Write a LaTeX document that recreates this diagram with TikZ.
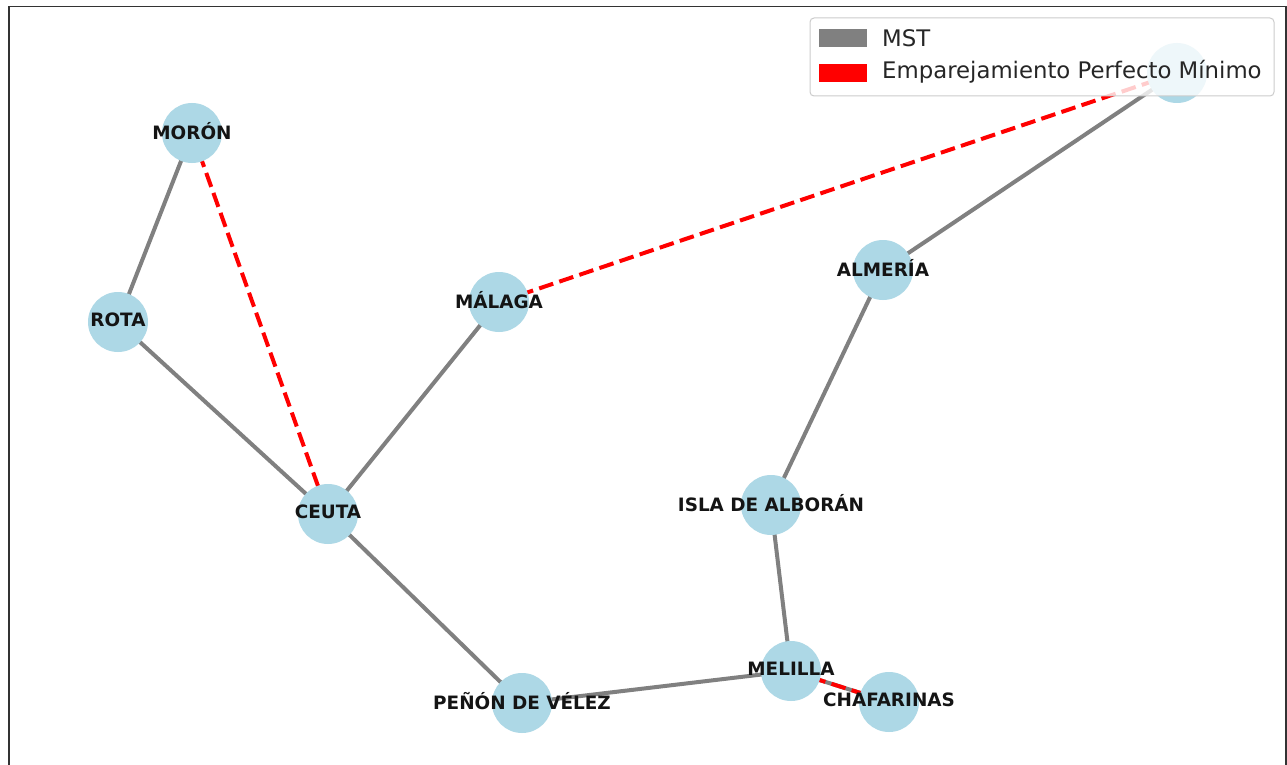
\documentclass[tikz,border=0pt]{standalone}
\usepackage{fontspec}
\setmainfont{DejaVu Sans}
\usetikzlibrary{backgrounds}
\definecolor{nodeblue}{HTML}{ADD8E6}
\definecolor{mstgray}{HTML}{808080}
\definecolor{matchred}{HTML}{FF0000}
\definecolor{framegray}{HTML}{333333}
\tikzset{
  city/.style={circle, fill=nodeblue, draw=none, minimum size=60pt, inner sep=0pt},
  citylabel/.style={font=\fontsize{18.4}{20}\selectfont\bfseries, text=black!92, inner sep=0pt, yshift=2pt},
  mst/.style={draw=mstgray, line width=4pt},
  matching/.style={draw=matchred, line width=4pt, dash pattern=on 14.8pt off 6.4pt},
  legendbox/.style={draw=black!20, line width=1pt, fill=white, fill opacity=0.8, rounded corners=4pt,
    minimum width=464pt, minimum height=78pt, inner sep=0pt},
  legendpatch/.style={minimum width=48pt, minimum height=18pt, inner sep=0pt, draw=none},
  legendtext/.style={font=\fontsize{22.8}{25}\selectfont, text=black!85, anchor=west, inner sep=0pt}
}
\begin{document}
\begin{tikzpicture}[x=1pt, y=-1pt]
  \useasboundingbox (0,0) rectangle (1287,765);

  % cities
  \node[city] (moron)   at (192,133) {};
  \node[city] (rota)    at (118,322) {};
  \node[city] (ceuta)   at (328,514) {};
  \node[city] (malaga)  at (499,302) {};
  \node[city] (ne)      at (1177,73) {};
  \node[city] (almeria) at (883,270) {};
  \node[city] (alboran) at (771,505) {};
  \node[city] (melilla) at (791,671) {};
  \node[city] (chafa)   at (889,702) {};
  \node[city] (penon)   at (522,703) {};

  % white page and edges beneath the circles
  \begin{scope}[on background layer]
    \fill[white] (0,0) rectangle (1287,765);
    \draw[mst] (moron.center) -- (rota.center);
    \draw[mst] (rota.center) -- (ceuta.center);
    \draw[mst] (ceuta.center) -- (malaga.center);
    \draw[mst] (ceuta.center) -- (penon.center);
    \draw[mst] (penon.center) -- (melilla.center);
    \draw[mst] (melilla.center) -- (alboran.center);
    \draw[mst] (alboran.center) -- (almeria.center);
    \draw[mst] (almeria.center) -- (ne.center);
    \draw[mst] (melilla.center) -- (chafa.center);
    \draw[matching] (moron.center) -- (ceuta.center);
    \draw[matching] (malaga.center) -- (ne.center);
    \draw[matching] (melilla.center) -- (chafa.center);
  \end{scope}

  % axes frame (bottom edge falls outside the picture)
  \draw[framegray, line width=1.5pt] (9,765) -- (9,6.5) -- (1286,6.5) -- (1286,765);

  % city names
  \node[citylabel] (moronL)   at (moron)   {MORÓN};
  \node[citylabel] (rotaL)    at (rota)    {ROTA};
  \node[citylabel] (ceutaL)   at (ceuta)   {CEUTA};
  \node[citylabel] (malagaL)  at (malaga)  {MÁLAGA};
  \node[citylabel] (almeriaL) at (almeria) {ALMERÍA};
  \node[citylabel] (alboranL) at (alboran) {ISLA DE ALBORÁN};
  \node[citylabel] (melillaL) at (melilla) {MELILLA};
  \node[citylabel] (chafaL)   at (chafa)   {CHAFARINAS};
  \node[citylabel] (penonL)   at (penon)   {PEÑÓN DE VÉLEZ};

  % legend
  \node[legendbox] (legend) at (1042,57) {};
  \node[legendpatch, fill=mstgray]   (keyMST)   at (843,38) {};
  \node[legendpatch, fill=matchred]  (keyMatch) at (843,73) {};
  \node[legendtext] (txtMST)   at (882,38) {MST};
  \node[legendtext] (txtMatch) at (882,72) {Emparejamiento Perfecto Mínimo};
\end{tikzpicture}
\end{document}
